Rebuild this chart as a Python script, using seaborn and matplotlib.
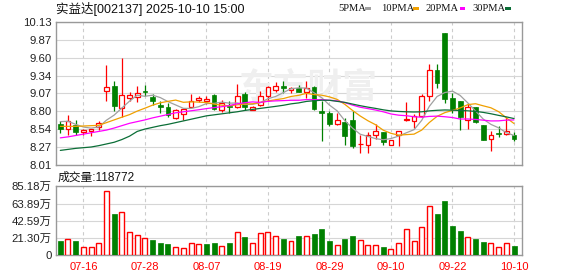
import numpy as np
import pandas as pd
import matplotlib
matplotlib.use("Agg")
import matplotlib.pyplot as plt
import seaborn as sns
from matplotlib.patches import Rectangle

sns.set_style("white")
plt.rcParams['font.family'] = ['Liberation Sans', 'Noto Sans CJK SC', 'DejaVu Sans']

# ---------------- data ----------------
dates = ['07-11', '07-14', '07-15', '07-16', '07-17', '07-18', '07-21', '07-22', '07-23', '07-24',
         '07-25', '07-28', '07-29', '07-30', '07-31', '08-01', '08-04', '08-05', '08-06', '08-07',
         '08-08', '08-11', '08-12', '08-13', '08-14', '08-15', '08-18', '08-19', '08-20', '08-21',
         '08-22', '08-25', '08-26', '08-27', '08-28', '08-29', '09-01', '09-02', '09-03', '09-04',
         '09-05', '09-08', '09-09', '09-10', '09-11', '09-12', '09-15', '09-16', '09-17', '09-18',
         '09-19', '09-22', '09-23', '09-24', '09-25', '09-26', '09-29', '09-30', '10-09', '10-10']

open_p = [8.618, 8.55, 8.599, 8.506, 8.51, 8.579, 9.109, 9.188, 8.854, 9.01,
          9.021, 9.10, 9.016, 8.893, 8.864, 8.707, 8.771, 8.864, 8.977, 8.962,
          9.045, 8.824, 8.884, 8.864, 9.06, 8.824, 8.903, 9.04, 9.124, 9.188,
          9.124, 9.148, 9.089, 9.173, 8.805, 8.78, 8.623, 8.643, 8.682, 8.324,
          8.314, 8.461, 8.50, 8.304, 8.461, 8.68, 8.658, 8.741, 9.04, 9.41,
          9.96, 9.001, 8.952, 8.672, 8.868, 8.608, 8.393, 8.486, 8.47, 8.461]
high_p = [8.658, 8.746, 8.672, 8.545, 8.545, 8.658, 9.487, 9.256, 9.60, 9.089,
          9.183, 9.197, 9.06, 8.962, 8.928, 8.839, 8.844, 9.06, 9.04, 9.04,
          9.06, 8.972, 8.952, 9.207, 9.089, 8.889, 9.109, 9.18, 9.237, 9.256,
          9.173, 9.197, 9.256, 9.18, 8.952, 8.805, 8.78, 8.707, 8.815, 8.452,
          8.50, 8.618, 8.50, 8.378, 8.51, 8.95, 8.77, 9.06, 9.507, 9.50,
          9.96, 9.075, 8.96, 8.913, 8.87, 8.608, 8.51, 8.584, 8.72, 8.495]
low_p = [8.486, 8.452, 8.461, 8.461, 8.437, 8.535, 8.962, 8.815, 8.721, 8.952,
         8.942, 9.026, 8.893, 8.78, 8.717, 8.69, 8.682, 8.864, 8.942, 8.913,
         8.83, 8.795, 8.78, 8.854, 8.83, 8.824, 8.879, 8.962, 9.099, 9.075,
         9.075, 9.089, 9.0, 8.83, 8.363, 8.584, 8.599, 8.304, 8.265, 8.19,
         8.19, 8.402, 8.304, 8.304, 8.29, 8.665, 8.56, 8.73, 8.952, 9.148,
         8.925, 8.78, 8.535, 8.55, 8.633, 8.388, 8.216, 8.427, 8.461, 8.363]
close_p = [8.545, 8.668, 8.506, 8.53, 8.545, 8.628, 9.173, 8.879, 9.05, 9.055,
           9.07, 9.09, 8.962, 8.874, 8.756, 8.824, 8.839, 8.952, 9.006, 8.982,
           8.844, 8.928, 8.874, 9.026, 8.864, 8.864, 9.04, 9.173, 9.188, 9.148,
           9.158, 9.099, 9.158, 8.844, 8.776, 8.618, 8.672, 8.437, 8.29, 8.33,
           8.452, 8.51, 8.353, 8.378, 8.51, 8.70, 8.741, 9.04, 9.418, 9.232,
           8.99, 8.844, 8.721, 8.864, 8.643, 8.388, 8.452, 8.466, 8.51, 8.393]

# volume in 万 (10k lots)
volume = [17.2, 20.5, 17.2, 10.6, 10.6, 15.6, 79.4, 50.4, 53.6, 29.1,
          25.4, 21.7, 18.4, 14.7, 13.5, 10.6, 9.4, 15.6, 14.3, 13.5,
          14.7, 11.9, 14.7, 29.1, 22.1, 14.7, 27.8, 29.1, 24.2, 19.7,
          18.0, 23.3, 24.2, 25.8, 31.9, 17.2, 13.1, 19.7, 23.3, 19.2,
          13.1, 13.1, 9.8, 8.2, 14.7, 32.8, 18.0, 35.2, 61.0, 50.4,
          67.6, 35.6, 29.5, 22.9, 19.7, 16.4, 14.7, 10.6, 15.6, 11.8772]
vol_dir = ['down', 'up', 'down', 'up', 'up', 'up', 'up', 'down', 'up', 'up',
           'up', 'up', 'down', 'down', 'down', 'up', 'up', 'up', 'up', 'down',
           'down', 'up', 'down', 'up', 'down', 'up', 'up', 'up', 'up', 'down',
           'up', 'down', 'up', 'down', 'down', 'down', 'up', 'down', 'down', 'up',
           'up', 'up', 'down', 'up', 'up', 'up', 'up', 'up', 'up', 'down',
           'down', 'down', 'down', 'up', 'down', 'down', 'up', 'up', 'up', 'down']

ma5 = [8.655, 8.66, 8.615, 8.575, 8.559, 8.575, 8.676, 8.751, 8.855, 8.957,
       9.045, 9.029, 9.045, 9.010, 8.950, 8.901, 8.851, 8.849, 8.875, 8.921,
       8.925, 8.942, 8.927, 8.931, 8.907, 8.911, 8.934, 8.993, 9.026, 9.083,
       9.141, 9.153, 9.150, 9.081, 9.007, 8.899, 8.814, 8.669, 8.559, 8.469,
       8.436, 8.404, 8.387, 8.405, 8.441, 8.490, 8.536, 8.674, 8.882, 9.026,
       9.084, 9.105, 9.041, 8.930, 8.812, 8.692, 8.614, 8.563, 8.492, 8.450]
ma10 = [8.585, 8.585, 8.585, 8.59, 8.595, 8.60, 8.64, 8.68, 8.72, 8.758,
        8.810, 8.853, 8.898, 8.933, 8.954, 8.973, 8.940, 8.947, 8.943, 8.936,
        8.913, 8.897, 8.888, 8.903, 8.914, 8.918, 8.938, 8.960, 8.978, 8.995,
        9.026, 9.043, 9.072, 9.054, 9.045, 9.020, 8.983, 8.910, 8.820, 8.738,
        8.668, 8.609, 8.528, 8.482, 8.455, 8.463, 8.470, 8.530, 8.643, 8.733,
        8.787, 8.821, 8.857, 8.906, 8.919, 8.888, 8.859, 8.802, 8.711, 8.627]
ma20 = [8.415, 8.43, 8.45, 8.47, 8.49, 8.51, 8.53, 8.56, 8.595, 8.63,
        8.655, 8.68, 8.71, 8.735, 8.76, 8.785, 8.80, 8.815, 8.83, 8.847,
        8.862, 8.875, 8.893, 8.918, 8.934, 8.946, 8.939, 8.954, 8.961, 8.965,
        8.970, 8.970, 8.980, 8.978, 8.979, 8.969, 8.961, 8.935, 8.899, 8.867,
        8.847, 8.826, 8.800, 8.768, 8.750, 8.742, 8.727, 8.720, 8.732, 8.736,
        8.727, 8.715, 8.693, 8.694, 8.687, 8.676, 8.665, 8.666, 8.677, 8.680]
ma30 = [8.23, 8.245, 8.26, 8.27, 8.28, 8.30, 8.325, 8.35, 8.39, 8.44,
        8.51, 8.545, 8.57, 8.595, 8.615, 8.64, 8.665, 8.69, 8.715, 8.74,
        8.755, 8.77, 8.785, 8.80, 8.82, 8.835, 8.85, 8.865, 8.88, 8.896,
        8.917, 8.931, 8.953, 8.963, 8.971, 8.970, 8.954, 8.939, 8.914, 8.890,
        8.869, 8.850, 8.829, 8.813, 8.805, 8.800, 8.797, 8.800, 8.814, 8.822,
        8.827, 8.824, 8.819, 8.814, 8.806, 8.791, 8.771, 8.747, 8.725, 8.700]

shown_dates = ['07-16', '07-28', '08-07', '08-19', '08-29', '09-10', '09-22', '10-10']
price_ticklabels = ['8.01', '8.27', '8.54', '8.80', '9.07', '9.34', '9.60', '9.87', '10.13']
vol_ticklabels = ['0', '21.30万', '42.59万', '63.89万', '85.18万']
title = '实益达[002137] 2025-10-10 15:00'
vol_title = '成交量:118772'
ma_names = ['5PMA', '10PMA', '20PMA', '30PMA']

# ---------------- styling ----------------
RED = '#FF0000'
GREEN = '#008000'
MA_COLORS = ['#A0A0A0', '#F0A000', '#FF00FF', '#0B6E37']
SPINE = '#999999'

W, H = 578, 276
fig = plt.figure(figsize=(W / 100, H / 100), dpi=100)
fig.patch.set_facecolor('white')

ax = fig.add_axes([56 / W, 1 - 165.3 / H, 466 / W, (165.3 - 21.7) / H])
axv = fig.add_axes([56 / W, 1 - 255.3 / H, 466 / W, (255.3 - 186.3) / H])

x = np.arange(len(dates))
o = np.array(open_p); c = np.array(close_p)
hi = np.array(high_p); lo = np.array(low_p)
up = c >= o

# watermark
ax.text(32.3, 9.17, '东方财富', fontsize=25, color='#efefef', ha='center', va='center',
        fontweight='bold', family=['Noto Sans CJK SC'], zorder=1)

# candles
wick_cols = np.where(up, RED, GREEN)
ax.vlines(x, lo, hi, colors=wick_cols, lw=0.9, zorder=2)
bottom = np.minimum(o, c)
height = np.maximum(np.abs(c - o), 0.004)
ax.bar(x[up], height[up], bottom=bottom[up], width=0.62, facecolor='white',
       edgecolor=RED, linewidth=0.9, zorder=3)
ax.bar(x[~up], height[~up], bottom=bottom[~up], width=0.62, facecolor=GREEN,
       edgecolor=GREEN, linewidth=0.5, zorder=3)

# moving averages
for arr, col in zip([ma5, ma10, ma20, ma30], MA_COLORS):
    sns.lineplot(x=x, y=arr, ax=ax, color=col, linewidth=0.9, zorder=4)

# volume
vdf = pd.DataFrame({'idx': x, 'vol': volume, 'dir': vol_dir})
sns.barplot(data=vdf[vdf['dir'] == 'down'], x='idx', y='vol', native_scale=True,
            color=GREEN, saturation=1, width=0.65, errorbar=None,
            edgecolor=GREEN, linewidth=0.5, ax=axv, zorder=3)
sns.barplot(data=vdf[vdf['dir'] == 'up'], x='idx', y='vol', native_scale=True,
            color='white', saturation=1, width=0.65, errorbar=None,
            edgecolor=RED, linewidth=1.0, ax=axv, zorder=3)

tick_idx = [dates.index(d) for d in shown_dates]

for a in (ax, axv):
    a.set_xlim(-0.56, 60.04)
    a.set_xlabel('')
    a.set_ylabel('')
    a.set_xticks(tick_idx)
    a.set_axisbelow(True)
    a.grid(axis='y', color='#d6d6d6', lw=0.8, ls='-')
    a.grid(axis='x', color='#cccccc', lw=0.8, ls=(0, (3, 3)))
    for s in a.spines.values():
        s.set_visible(True)
        s.set_color(SPINE)
        s.set_linewidth(1.0)
    a.tick_params(axis='both', length=0)
    a.tick_params(axis='y', labelsize=8.2, pad=3, labelcolor='#222222')

ax.set_ylim(8.01, 10.13)
ax.set_yticks(np.linspace(8.01, 10.13, 9))
ax.set_yticklabels(price_ticklabels)
ax.set_xticklabels([])

axv.set_ylim(0, 85.18)
axv.set_yticks(np.linspace(0, 85.18, 5))
axv.set_yticklabels(vol_ticklabels)
axv.set_xticklabels(shown_dates)
axv.tick_params(axis='x', labelsize=8, pad=5, labelcolor=RED)

# titles
fig.text(56 / W, 1 - 8.5 / H, title, fontsize=9, ha='left', va='center', color='#111111')
fig.text(58 / W, 1 - 178 / H, vol_title, fontsize=8.5, ha='left', va='center', color='#111111')

# legend (text + short colored bar)
leg_x = [338.7, 380.7, 425.7, 472.0]
mark_x = [365.0, 413.0, 459.7, 505.0]
for name, lx, mx, col in zip(ma_names, leg_x, mark_x, MA_COLORS):
    fig.text(lx / W, 1 - 8.5 / H, name, fontsize=7.6, ha='left', va='center',
             family=['Liberation Serif'], color='#111111')
    fig.add_artist(Rectangle((mx / W, 1 - 10 / H), 5.5 / W, 3 / H,
                             transform=fig.transFigure, facecolor=col, edgecolor='none'))

fig.savefig('out.png', dpi=100)
